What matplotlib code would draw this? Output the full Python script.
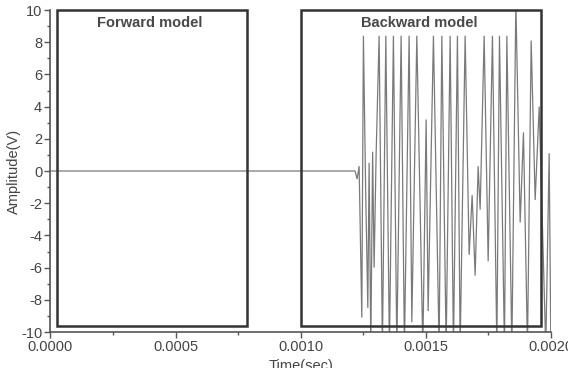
import matplotlib
matplotlib.use("Agg")
import matplotlib.pyplot as plt
from matplotlib.patches import Rectangle
from matplotlib.ticker import MultipleLocator, FormatStrFormatter

plt.rcParams['font.family'] = ['Liberation Sans', 'DejaVu Sans']
plt.rcParams['axes.unicode_minus'] = False

# Signal vertices (time in sec, amplitude in V); values below -10 are clipped by the axes
time_s = [0.0, 0.001218, 0.001226, 0.001234, 0.0012448, 0.0012512, 0.00126, 0.0012688,
          0.001274, 0.0012808, 0.001288, 0.001294, 0.001302, 0.001314, 0.0013272,
          0.0013408, 0.0013552, 0.0013712, 0.0013848, 0.001402, 0.0014152, 0.001434,
          0.0014448, 0.0014648, 0.0014888, 0.001502, 0.00151, 0.0015312, 0.001554,
          0.0015648, 0.001582, 0.001598, 0.0016112, 0.0016272, 0.001638, 0.001658,
          0.001674, 0.001686, 0.001698, 0.00171, 0.001718, 0.001734, 0.00175,
          0.0017672, 0.0017848, 0.0017952, 0.0018152, 0.0018248, 0.0018448, 0.0018608,
          0.001878, 0.0018912, 0.0019072, 0.001922, 0.001938, 0.001954, 0.0019804,
          0.001994, 0.0020008]
amplitude = [0.0, 0.0, -0.5, 0.3, -9.1, 8.4, -1.0, -8.5,
             0.5, -11.0, 1.2, -6.0, 1.0, 8.4, -11.0,
             8.4, -11.0, 8.4, -11.0, 8.4, -11.0, 8.4,
             -9.4, 8.4, -11.0, 3.2, -8.7, 8.4, -11.0,
             8.4, -11.0, 8.4, -11.0, 8.4, -11.0, 8.4,
             -5.2, -1.5, -6.5, 0.3, -2.4, 8.4, -5.6,
             8.4, -11.0, 8.4, -11.0, 8.4, -11.0, 10.5,
             -3.2, 2.4, -11.0, 8.1, -1.8, 4.0, -11.0,
             1.1, -11.0]

# Annotation boxes: (x0, x1, y0, y1) in data units
forward_box = (0.0000248, 0.000785, -9.63, 10.0)
backward_box = (0.001002, 0.001962, -9.65, 10.0)
box_labels = ["Forward model", "Backward model"]

fig = plt.figure(figsize=(5.68, 3.68), dpi=100)
ax = fig.add_axes([0.0889, 0.0978, 0.8806, 0.875])

ax.plot(time_s, amplitude, color='#7a7a7a', lw=0.9, solid_joinstyle='miter')

for (x0, x1, y0, y1), lab in zip([forward_box, backward_box], box_labels):
    ax.add_patch(Rectangle((x0, y0), x1 - x0, y1 - y0, fill=False,
                           edgecolor='#333333', lw=1.8, clip_on=False, zorder=3))
    ax.text((x0 + x1) / 2 - 0.000008, y1 - 0.35, lab, ha='center', va='top',
            fontsize=10.5, fontweight='bold', color='#484848')

ax.set_xlim(0, 0.002)
ax.set_ylim(-10, 10)
ax.xaxis.set_major_locator(MultipleLocator(0.0005))
ax.xaxis.set_minor_locator(MultipleLocator(0.00025))
ax.yaxis.set_major_locator(MultipleLocator(2))
ax.yaxis.set_minor_locator(MultipleLocator(1))
ax.xaxis.set_major_formatter(FormatStrFormatter('%.4f'))

for s in ['top', 'right']:
    ax.spines[s].set_visible(False)
for s in ['left', 'bottom']:
    ax.spines[s].set_color('#555555')
    ax.spines[s].set_linewidth(1.2)

ax.tick_params(which='major', direction='out', length=4, width=1, color='#555555',
               labelsize=10.5, labelcolor='#444444', pad=2)
ax.tick_params(which='minor', direction='out', length=2.5, width=1, color='#555555')

ax.set_ylabel('Amplitude(V)', fontsize=10.5, color='#444444')
ax.yaxis.set_label_coords(-0.06, 0.5)
ax.set_xlabel('Time(sec)', fontsize=10.5, color='#444444', labelpad=3)

fig.savefig('out.png', dpi=100)
